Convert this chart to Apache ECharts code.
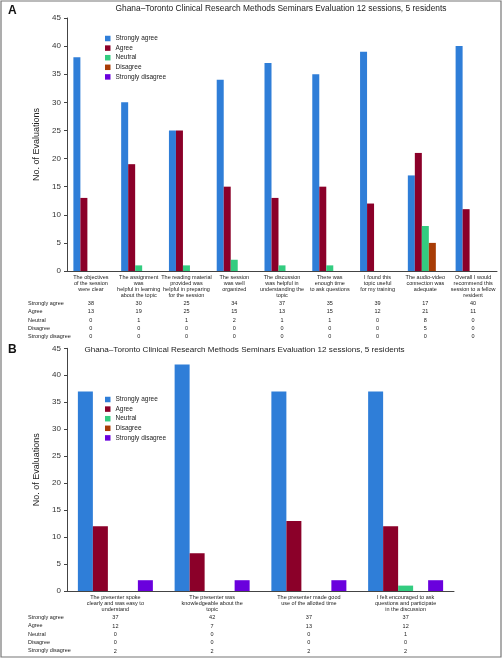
<!DOCTYPE html>
<html>
<head>
<meta charset="utf-8">
<script src="https://cdn.jsdelivr.net/npm/echarts@6/dist/echarts.min.js"></script>
<style>
html,body{margin:0;padding:0;background:#fff;}
#chart{width:503px;height:659px;}
</style>
</head>
<body>
<div id="chart"></div>
<script>
// ---------- Data ----------
const seriesNames = ['Strongly agree', 'Agree', 'Neutral', 'Disagree', 'Strongly disagree'];
const seriesColors = ['#2f7ed8', '#8b0029', '#33cc80', '#a83c06', '#6a00dd'];

const titleText = 'Ghana\u2013Toronto Clinical Research Methods Seminars Evaluation 12 sessions, 5 residents';
const yAxisName = 'No. of Evaluations';
const yTicks = [0, 5, 10, 15, 20, 25, 30, 35, 40, 45];

const categoriesA = [
  'The objectives\nof the session\nwere clear',
  'The assignment\nwas\nhelpful in learning\nabout the topic',
  'The reading material\nprovided was\nhelpful in preparing\nfor the session',
  'The session\nwas well\norganized',
  'The discussion\nwas helpful in\nunderstanding the\ntopic',
  'There was\nenough time\nto ask questions',
  'I found this\ntopic useful\nfor my training',
  'The audio-video\nconnection was\nadequate',
  'Overall I would\nrecommend this\nsession to a fellow\nresident'
];
const stronglyAgreeA   = [38, 30, 25, 34, 37, 35, 39, 17, 40];
const agreeA           = [13, 19, 25, 15, 13, 15, 12, 21, 11];
const neutralA         = [0, 1, 1, 2, 1, 1, 0, 8, 0];
const disagreeA        = [0, 0, 0, 0, 0, 0, 0, 5, 0];
const stronglyDisagreeA= [0, 0, 0, 0, 0, 0, 0, 0, 0];

const categoriesB = [
  'The presenter spoke\nclearly and was easy to\nunderstand',
  'The presenter was\nknowledgeable about the\ntopic',
  'The presenter made good\nuse of the allotted time',
  'I felt encouraged to ask\nquestions and participate\nin the discussion'
];
const stronglyAgreeB   = [37, 42, 37, 37];
const agreeB           = [12, 7, 13, 12];
const neutralB         = [0, 0, 0, 1];
const disagreeB        = [0, 0, 0, 0];
const stronglyDisagreeB= [2, 2, 2, 2];

// ---------- Build ----------
const FONT = '"Liberation Sans", Arial, Helvetica, sans-serif';
const dataA = [stronglyAgreeA, agreeA, neutralA, disagreeA, stronglyDisagreeA];
const dataB = [stronglyAgreeB, agreeB, neutralB, disagreeB, stronglyDisagreeB];

const panels = [
  { cats: categoriesA, data: dataA, grid: {left: 67, right: 6, top: 18, bottom: 388},
    barWidth: 7, tableStart: 32.5, rowStep: 8.35, legendTop: 29.5,
    title: {x: 281, y: 9, size: 8.4}, letter: {x: 8, y: 11, t: 'A'} },
  { cats: categoriesB, data: dataB, grid: {left: 67, right: 49, top: 348.3, bottom: 68},
    barWidth: 15, tableStart: 26.7, rowStep: 8.33, legendTop: 390.5,
    title: {x: 244.5, y: 350, size: 8.1}, letter: {x: 8, y: 350, t: 'B'} }
];

const grids = [], xAxes = [], yAxes = [], series = [], legends = [], graphics = [];

panels.forEach((p, pi) => {
  grids.push(Object.assign({containLabel: false}, p.grid));
  const gridBottomY = 659 - p.grid.bottom;
  // main category axis
  xAxes.push({
    type: 'category', gridIndex: pi, data: p.cats, position: 'bottom',
    axisLine: {show: true, lineStyle: {color: '#444', width: 1}},
    axisTick: {show: false},
    axisLabel: {interval: 0, fontSize: 5.5, lineHeight: 6.2, color: '#222', margin: 3, fontFamily: FONT}
  });
  const mainIdx = xAxes.length - 1;
  // table rows as additional category axes
  p.data.forEach((arr, ri) => {
    xAxes.push({
      type: 'category', gridIndex: pi, data: p.cats, position: 'bottom',
      offset: p.tableStart + p.rowStep * ri,
      axisLine: {show: false}, axisTick: {show: false}, splitLine: {show: false},
      axisLabel: {interval: 0, margin: 0, fontSize: 5.5, color: '#222', verticalAlign: 'middle',
        fontFamily: FONT, formatter: (v, idx) => String(arr[idx])}
    });
    graphics.push({
      type: 'text', left: 28, top: gridBottomY + p.tableStart + p.rowStep * ri - 3.2,
      style: {text: seriesNames[ri], fontSize: 5.5, fill: '#222', font: '5.5px ' + FONT}
    });
  });
  yAxes.push({
    type: 'value', gridIndex: pi, min: 0, max: 45, interval: 5,
    name: yAxisName, nameLocation: 'middle', nameGap: 17,
    nameTextStyle: {fontSize: 9, color: '#222', fontFamily: FONT},
    axisLine: {show: true, lineStyle: {color: '#444', width: 1}},
    axisTick: {show: true, length: 3, lineStyle: {color: '#444'}},
    axisLabel: {fontSize: 8, color: '#333', margin: 6, fontFamily: FONT},
    splitLine: {show: false}
  });
  seriesNames.forEach((name, si) => {
    series.push({
      type: 'bar', name: name, xAxisIndex: mainIdx, yAxisIndex: pi,
      data: p.data[si], barWidth: p.barWidth, barGap: '0%',
      itemStyle: {color: seriesColors[si]}
    });
  });
  legends.push({
    orient: 'vertical', left: 100, top: p.legendTop, itemWidth: 5.5, itemHeight: 5.5,
    itemGap: 1.6, icon: 'rect', data: seriesNames,
    textStyle: {fontSize: 6.5, color: '#222', lineHeight: 8, fontFamily: FONT}
  });
  graphics.push({
    type: 'text', x: p.title.x, y: p.title.y,
    style: {text: titleText, textAlign: 'center', textVerticalAlign: 'middle',
      font: p.title.size + 'px ' + FONT, fill: '#222'}
  });
  graphics.push({
    type: 'text', x: p.letter.x, y: p.letter.y,
    style: {text: p.letter.t, textVerticalAlign: 'middle', font: 'bold 12px ' + FONT, fill: '#111'}
  });
});

graphics.push({
  type: 'rect', shape: {x: 1, y: 1, width: 500, height: 656},
  style: {fill: 'none', stroke: '#777', lineWidth: 1.2}, silent: true
});

const chart = echarts.init(document.getElementById('chart'), null, {renderer: 'canvas'});
chart.setOption({
  animation: false,
  backgroundColor: '#fff',
  grid: grids, xAxis: xAxes, yAxis: yAxes, series: series,
  legend: legends, graphic: graphics
});
</script>
</body>
</html>
